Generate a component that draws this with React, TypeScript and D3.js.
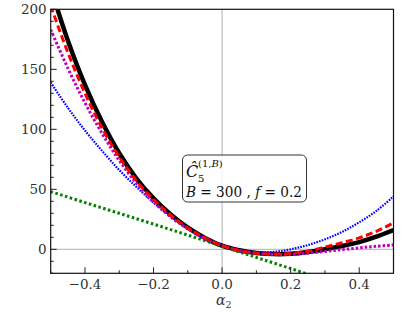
import React, { useEffect, useRef } from "react";
import * as d3 from "d3";

const alphas = [-0.5, -0.45, -0.4, -0.35, -0.3, -0.25, -0.2, -0.15, -0.1, -0.05, 0, 0.05, 0.1, 0.15, 0.2, 0.25, 0.3, 0.35, 0.4, 0.45, 0.5];
const blackVals = [218, 174, 137, 106, 80, 59, 42.5, 29, 18, 9.5, 3, -0.8, -3, -4, -3.8, -2.3, 0, 2.7, 6, 10.5, 16];
const redVals = [203, 164, 130, 101, 77, 57, 41.5, 28.5, 17.8, 9.5, 3, -1, -3.2, -4, -3.4, -1.5, 1.8, 5.5, 9.5, 15, 22];
const magentaVals = [183, 151, 122, 96.5, 74, 55, 39.5, 27, 17, 9, 3, -1, -3.3, -4.3, -4.2, -3.2, -1.8, -0.3, 1.2, 2.5, 3.6];
const blueVals = [139, 118, 99, 82, 66, 52, 39, 27.5, 17.5, 9.5, 3.5, -0.5, -2.3, -2.2, 0, 3.5, 8.3, 14.5, 22.5, 32, 44];
const greenAlphas = [-0.5, -0.4, -0.3, -0.2, -0.1, 0, 0.1, 0.2, 0.3];
const greenVals = [48, 39, 30, 21, 11.8, 2.5, -6.8, -16, -25.5];

const xTicks = [-0.4, -0.2, 0, 0.2, 0.4];
const xMinor = [-0.5, -0.3, -0.1, 0.1, 0.3, 0.5];
const yTicks = [0, 50, 100, 150, 200];

const W = 407, H = 313;
const left = 50.7, right = 393.5, top = 9.3, bottom = 273.3;
const font = "DejaVu Serif, Liberation Serif, Times New Roman, serif";

const App = () => {
  const ref = useRef<SVGGElement>(null);

  useEffect(() => {
    const g = d3.select(ref.current);
    g.selectAll("*").remove();

    const x = d3.scaleLinear().domain([-0.5, 0.5]).range([left, right]);
    const y = d3.scaleLinear().domain([-20, 200]).range([bottom, top]);

    g.append("defs").append("clipPath").attr("id", "plotclip")
      .append("rect").attr("x", left).attr("y", top)
      .attr("width", right - left).attr("height", bottom - top);

    // reference lines
    g.append("line").attr("x1", left).attr("x2", right)
      .attr("y1", y(0)).attr("y2", y(0))
      .attr("stroke", "#b0b0b0").attr("stroke-width", 1);
    g.append("line").attr("x1", x(0)).attr("x2", x(0))
      .attr("y1", top).attr("y2", bottom)
      .attr("stroke", "#b0b0b0").attr("stroke-width", 1);

    const line = d3.line<[number, number]>()
      .x(d => x(d[0]))
      .y(d => y(d[1]))
      .curve(d3.curveCatmullRom);

    const plot = g.append("g").attr("clip-path", "url(#plotclip)");
    const series = [
      { vals: blackVals, xs: alphas, color: "#000000", width: 4.5, dash: null },
      { vals: blueVals, xs: alphas, color: "#0000ff", width: 2.2, dash: "1.6 1.2" },
      { vals: magentaVals, xs: alphas, color: "#bf00bf", width: 3, dash: "2.5 2" },
      { vals: greenVals, xs: greenAlphas, color: "#008000", width: 3, dash: "2.5 2.5" },
      { vals: redVals, xs: alphas, color: "#ff0000", width: 3, dash: "7 3.5" },
    ];
    series.forEach(s => {
      const pts = s.xs.map((a, i) => [a, s.vals[i]] as [number, number]);
      plot.append("path")
        .attr("d", line(pts))
        .attr("fill", "none")
        .attr("stroke", s.color)
        .attr("stroke-width", s.width)
        .attr("stroke-dasharray", s.dash);
    });

    // ticks (inward)
    const axis = g.append("g").attr("stroke", "#222").attr("stroke-width", 1);
    xTicks.forEach(t => {
      axis.append("line").attr("x1", x(t)).attr("x2", x(t))
        .attr("y1", bottom).attr("y2", bottom - 6);
    });
    xMinor.forEach(t => {
      axis.append("line").attr("x1", x(t)).attr("x2", x(t))
        .attr("y1", bottom).attr("y2", bottom - 3);
    });
    d3.range(-20, 201, 10).forEach(v => {
      const major = v % 50 === 0;
      axis.append("line").attr("x1", left).attr("x2", left + (major ? 6 : 3))
        .attr("y1", y(v)).attr("y2", y(v));
    });

    g.append("rect").attr("x", left).attr("y", top)
      .attr("width", right - left).attr("height", bottom - top)
      .attr("fill", "none").attr("stroke", "#111").attr("stroke-width", 1.2);

    const fmt = (t: number) => (t < 0 ? "\u2212" : "") + Math.abs(t).toFixed(1);
    xTicks.forEach(t => {
      g.append("text").attr("x", x(t)).attr("y", 289)
        .attr("text-anchor", "middle").attr("font-family", font)
        .attr("font-size", 13.5).attr("fill", "#333").text(fmt(t));
    });
    yTicks.forEach(v => {
      g.append("text").attr("x", left - 4).attr("y", y(v) + 5)
        .attr("text-anchor", "end").attr("font-family", font)
        .attr("font-size", 13.5).attr("fill", "#333").text(String(v));
    });

    // x label
    const xl = g.append("text").attr("x", 216).attr("y", 305)
      .attr("font-family", font).attr("font-size", 14).attr("fill", "#333");
    xl.append("tspan").attr("font-style", "italic").text("\u03b1");
    xl.append("tspan").attr("font-size", 9.5).attr("dy", 3).text("2");

    // legend box
    g.append("rect").attr("x", 182.5).attr("y", 155).attr("width", 124)
      .attr("height", 47).attr("rx", 5)
      .attr("fill", "white").attr("fill-opacity", 0.8)
      .attr("stroke", "#333").attr("stroke-width", 1);

    g.append("text").attr("x", 186).attr("y", 177)
      .attr("font-family", font).attr("font-size", 16).attr("font-style", "italic")
      .attr("fill", "#111").text("\u0108");
    g.append("text").attr("x", 198).attr("y", 182)
      .attr("font-family", font).attr("font-size", 10).attr("fill", "#111").text("5");
    const sup = g.append("text").attr("x", 198).attr("y", 167)
      .attr("font-family", font).attr("font-size", 10).attr("fill", "#111");
    sup.append("tspan").text("(1,");
    sup.append("tspan").attr("font-style", "italic").text("B");
    sup.append("tspan").text(")");

    const l2 = g.append("text").attr("x", 186).attr("y", 197)
      .attr("font-family", font).attr("font-size", 14).attr("fill", "#111")
      .attr("textLength", 116).attr("lengthAdjust", "spacingAndGlyphs");
    l2.append("tspan").attr("font-style", "italic").text("B");
    l2.append("tspan").text(" = 300 , ");
    l2.append("tspan").attr("font-style", "italic").text("f");
    l2.append("tspan").text(" = 0.2");
  }, []);

  return (
    <svg width={W} height={H} style={{ position: "absolute", left: 0, top: 0 }}>
      <rect width={W} height={H} fill="white" />
      <g ref={ref} />
    </svg>
  );
};

export default App;
